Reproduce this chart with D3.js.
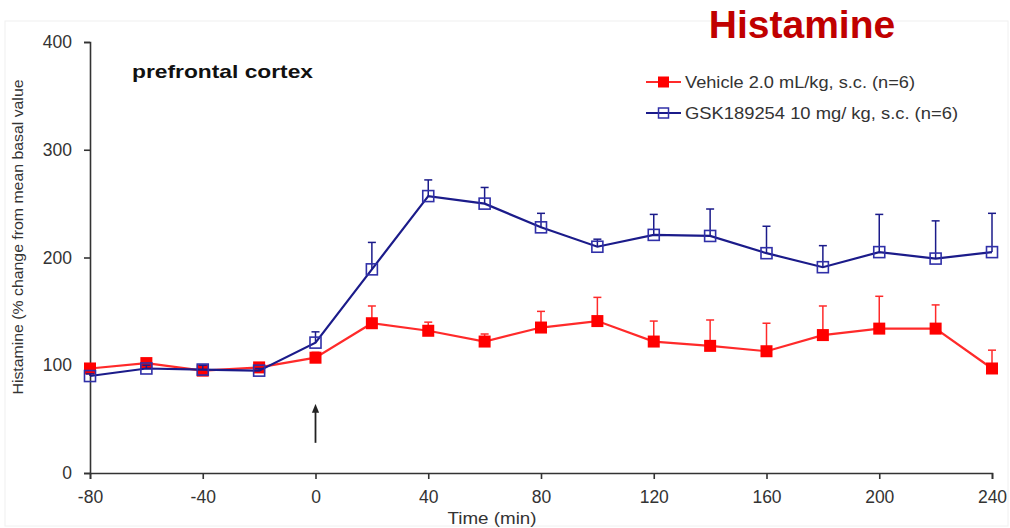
<!DOCTYPE html>
<html><head><meta charset="utf-8">
<script src="https://cdn.jsdelivr.net/npm/d3@7"></script>
<style>body{margin:0;background:#fff}svg{display:block}text{font-family:"Liberation Sans",Arial,sans-serif}</style>
</head><body>
<svg id="c" width="1010" height="528"></svg>
<script>
const times = [-80,-60,-40,-20,0,20,40,60,80,100,120,140,160,180,200,220,240];
const vehicleMean = [97,102,95,98,107,139,132,122,135,141,122,118,113,128,134,134,97];
const vehicleUpper = [99,105,97,100,112,155,140,129,150,163,141,142,139,155,164,156,114];
const gskMean = [90,97,96,95,121,189,257,250,228,210,221,220,204,191,205,199,205];
const gskUpper = [92,100,100,97,131,214,272,265,241,217,240,245,229,211,240,234,241];
const xTicks = [-80,-40,0,40,80,120,160,200,240];
const yTicks = [0,100,200,300,400];
const seriesNames = ["Vehicle 2.0 mL/kg, s.c. (n=6)","GSK189254 10 mg/ kg, s.c. (n=6)"];

const svg = d3.select("#c");
const x = d3.scaleLinear().domain([-80,240]).range([90,992]);
const y = d3.scaleLinear().domain([0,400]).range([473,42]);
const fmt = d => String(d);

// faint frame
svg.append("rect").attr("x",5).attr("y",21).attr("width",1003).attr("height",505)
  .attr("fill","none").attr("stroke","#f0f0f0").attr("stroke-width",1);

// axes
const xa = svg.append("g").attr("transform","translate(0,473)")
  .call(d3.axisBottom(x).tickValues(xTicks).tickFormat(fmt).tickSizeOuter(0).tickSize(6).tickPadding(12));
const ya = svg.append("g").attr("transform","translate(90,0)")
  .call(d3.axisLeft(y).tickValues(yTicks).tickFormat(fmt).tickSizeOuter(0).tickSize(6).tickPadding(12));
[xa,ya].forEach(g=>{
  g.select(".domain").attr("stroke","#333").attr("stroke-width",1.6);
  g.selectAll(".tick line").attr("stroke","#333").attr("stroke-width",1.6);
  g.selectAll(".tick text").attr("fill","#333").attr("font-size",17.5).style("font-family","'Liberation Sans',Arial,sans-serif");
});

// axis titles
svg.append("text").attr("x",492).attr("y",524).attr("text-anchor","middle")
  .attr("font-size",17).attr("fill","#333").attr("textLength",89).attr("lengthAdjust","spacingAndGlyphs").text("Time (min)");
svg.append("text").attr("transform","translate(23,237) rotate(-90)").attr("text-anchor","middle")
  .attr("font-size",15.5).attr("fill","#333").attr("textLength",315).attr("lengthAdjust","spacingAndGlyphs")
  .text("Histamine (% change from mean basal value");

// arrow at t=0
svg.append("defs").append("marker").attr("id","ah").attr("viewBox","0 0 10 10").attr("refX",5).attr("refY",5)
  .attr("markerWidth",5).attr("markerHeight",6).attr("orient","auto")
  .append("path").attr("d","M0,1 L10,5 L0,9 Z").attr("fill","#222");
svg.append("line").attr("x1",x(0)).attr("x2",x(0)).attr("y1",y(28)).attr("y2",y(60))
  .attr("stroke","#222").attr("stroke-width",1.8).attr("marker-end","url(#ah)");

function drawSeries(mean, upper, color, filled, markerColor){
  const g = svg.append("g");
  const pts = times.map((t,i)=>({t, m:mean[i], u:upper[i]}));
  g.selectAll("line.eb").data(pts).join("line").attr("x1",d=>x(d.t)).attr("x2",d=>x(d.t))
    .attr("y1",d=>y(d.m)).attr("y2",d=>y(d.u)).attr("stroke",color).attr("stroke-width",1.5);
  g.selectAll("line.cap").data(pts).join("line").attr("x1",d=>x(d.t)-4).attr("x2",d=>x(d.t)+4)
    .attr("y1",d=>y(d.u)).attr("y2",d=>y(d.u)).attr("stroke",color).attr("stroke-width",1.5);
  g.append("path").datum(pts).attr("fill","none").attr("stroke",color).attr("stroke-width",2.2)
    .attr("d",d3.line().x(d=>x(d.t)).y(d=>y(d.m)));
  const s = filled?12:11;
  g.selectAll("rect").data(pts).join("rect").attr("x",d=>x(d.t)-s/2).attr("y",d=>y(d.m)-s/2)
    .attr("width",s).attr("height",s).attr("fill",filled?markerColor:"none")
    .attr("stroke",markerColor).attr("stroke-width",filled?0:1.6);
}
drawSeries(vehicleMean, vehicleUpper, "#ff2a2a", true, "#ff0000");
drawSeries(gskMean, gskUpper, "#1b1b8a", false, "#3030a8");

// title texts
svg.append("text").attr("x",802).attr("y",38).attr("text-anchor","middle").attr("font-size",39)
  .attr("font-weight","bold").attr("fill","#c00000").text("Histamine");
svg.append("text").attr("x",132).attr("y",78).attr("font-size",19).attr("font-weight","bold")
  .attr("fill","#111").attr("textLength",181).attr("lengthAdjust","spacingAndGlyphs").text("prefrontal cortex");

// legend
const leg = [{c:"#ff2a2a",mc:"#ff0000",f:true,y:82},{c:"#1b1b8a",mc:"#3030a8",f:false,y:113}];
leg.forEach((l,i)=>{
  svg.append("line").attr("x1",646).attr("x2",681).attr("y1",l.y).attr("y2",l.y).attr("stroke",l.c).attr("stroke-width",2.2);
  const s = l.f?11:10;
  svg.append("rect").attr("x",663.5-s/2).attr("y",l.y-s/2).attr("width",s).attr("height",s)
    .attr("fill",l.f?l.mc:"none").attr("stroke",l.mc).attr("stroke-width",l.f?0:1.5);
  svg.append("text").attr("x",685).attr("y",l.y+6).attr("font-size",17).attr("fill","#333")
    .attr("textLength",i===0?230:273).attr("lengthAdjust","spacingAndGlyphs").text(seriesNames[i]);
});
</script>
</body></html>
